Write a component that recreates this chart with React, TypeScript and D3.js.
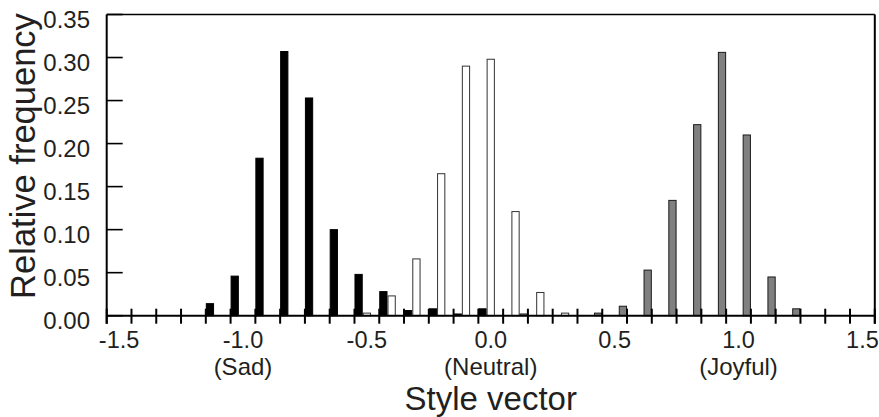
import { useEffect, useRef } from "react";
import * as d3 from "d3";

// bin centres of the histogram (style vector value)
const binCenters = [
  -1.1, -1.0, -0.9, -0.8, -0.7, -0.6, -0.5, -0.4, -0.3, -0.2, -0.1, 0.0,
  0.1, 0.2, 0.3, 0.4, 0.5, 0.6, 0.7, 0.8, 0.9, 1.0, 1.1, 1.2,
];
const sadFreq = [
  0.014, 0.046, 0.183, 0.307, 0.253, 0.1, 0.048, 0.028, 0.006, 0.008, 0.002, 0.008,
  0, 0, 0, 0, 0, 0, 0, 0, 0, 0, 0, 0,
];
const neutralFreq = [
  0, 0, 0, 0, 0, 0, 0.003, 0.023, 0.066, 0.165, 0.29, 0.298,
  0.121, 0.027, 0.003, 0, 0, 0, 0, 0, 0, 0, 0, 0,
];
const joyfulFreq = [
  0, 0, 0, 0, 0, 0, 0, 0, 0, 0, 0, 0,
  0.002, 0, 0, 0.003, 0.011, 0.053, 0.134, 0.222, 0.306, 0.21, 0.045, 0.008,
];
const xTickLabels = [-1.5, -1.0, -0.5, 0.0, 0.5, 1.0, 1.5];
const xSubLabels = [
  { v: -1.0, text: "(Sad)" },
  { v: 0.0, text: "(Neutral)" },
  { v: 1.0, text: "(Joyful)" },
];
const yTicks = [0, 0.05, 0.1, 0.15, 0.2, 0.25, 0.3, 0.35];

const FONT = "'Liberation Sans', Arial, Helvetica, sans-serif";
const TEXT = "#231f20";

// plain hyphen for negatives, like the original figure
const fmt = (spec: string) => (v: number) => d3.format(spec)(v).replace("\u2212", "-");

export default function App() {
  const ref = useRef<SVGSVGElement>(null);

  useEffect(() => {
    const svg = d3.select(ref.current);
    svg.selectAll("*").remove();

    const left = 106.7, right = 874.8, top = 14.5, base = 315.7;
    const x = d3.scaleLinear().domain([-1.55, 1.55]).range([left, right]);
    const y = d3.scaleLinear().domain([0, 0.35]).range([base, top]);

    // sub-band inside each 0.1 bin: black | white | grey
    const sub = d3.scaleBand<string>()
      .domain(["sad", "neutral", "joyful"])
      .range([0, x(0.05) - x(-0.05)])
      .padding(0);

    const series = [
      { key: "sad", vals: sadFreq, fill: "#000", stroke: "#000" },
      { key: "neutral", vals: neutralFreq, fill: "#fff", stroke: "#333" },
      { key: "joyful", vals: joyfulFreq, fill: "#808080", stroke: "#1a1a1a" },
    ];

    const bars = svg.append("g");
    series.forEach((s) => {
      const rows = binCenters
        .map((c, i) => ({ c, v: s.vals[i] }))
        .filter((d) => d.v > 0);
      bars.selectAll(null)
        .data(rows)
        .enter()
        .append("rect")
        .attr("x", (d) => x(d.c - 0.05) + (sub(s.key) as number) + 0.5)
        .attr("y", (d) => y(d.v))
        .attr("width", sub.bandwidth() - 1)
        .attr("height", (d) => base - y(d.v))
        .attr("fill", s.fill)
        .attr("stroke", s.stroke)
        .attr("stroke-width", 1);
    });

    // frame
    const frame = svg.append("g").attr("stroke", "#000").attr("fill", "none");
    frame.append("line").attr("x1", left).attr("x2", right).attr("y1", top).attr("y2", top).attr("stroke-width", 1.6);
    frame.append("line").attr("x1", left).attr("x2", left).attr("y1", top).attr("y2", base + 8).attr("stroke-width", 2);
    frame.append("line").attr("x1", right).attr("x2", right).attr("y1", top).attr("y2", base + 8).attr("stroke-width", 2);
    frame.append("line").attr("x1", left).attr("x2", right).attr("y1", base).attr("y2", base).attr("stroke-width", 2);

    // x ticks at bin edges
    const edges = d3.range(32).map((k) => -1.55 + k * 0.1);
    frame.selectAll(null)
      .data(edges)
      .enter()
      .append("line")
      .attr("x1", (d) => x(d))
      .attr("x2", (d) => x(d))
      .attr("y1", base - 7)
      .attr("y2", base + 8)
      .attr("stroke-width", 2);

    // y ticks, inward
    frame.selectAll(null)
      .data(yTicks)
      .enter()
      .append("line")
      .attr("x1", left)
      .attr("x2", left + 16)
      .attr("y1", (d) => y(d))
      .attr("y2", (d) => y(d))
      .attr("stroke-width", 1.6);

    const labels = svg.append("g").attr("font-family", FONT).attr("fill", TEXT);

    labels.selectAll(null)
      .data(yTicks)
      .enter()
      .append("text")
      .attr("x", 90)
      .attr("y", (d) => y(d) + 13)
      .attr("text-anchor", "end")
      .attr("font-size", 24)
      .text((d) => fmt(".2f")(d));

    labels.selectAll(null)
      .data(xTickLabels)
      .enter()
      .append("text")
      .attr("x", (d) => x(d))
      .attr("y", 347.5)
      .attr("text-anchor", "middle")
      .attr("font-size", 23.5)
      .text((d) => fmt(".1f")(d));

    labels.selectAll(null)
      .data(xSubLabels)
      .enter()
      .append("text")
      .attr("x", (d) => x(d.v))
      .attr("y", 374.5)
      .attr("text-anchor", "middle")
      .attr("font-size", 24)
      .text((d) => d.text);

    labels.append("text")
      .attr("x", x(0))
      .attr("y", 410)
      .attr("text-anchor", "middle")
      .attr("font-size", 33)
      .text("Style vector");

    labels.append("text")
      .attr("transform", "translate(35,156) rotate(-90)")
      .attr("text-anchor", "middle")
      .attr("font-size", 34.5)
      .text("Relative frequency");
  }, []);

  return (
    <svg
      ref={ref}
      width={879}
      height={417}
      style={{ position: "absolute", left: 0, top: 0, background: "#fff" }}
    />
  );
}
